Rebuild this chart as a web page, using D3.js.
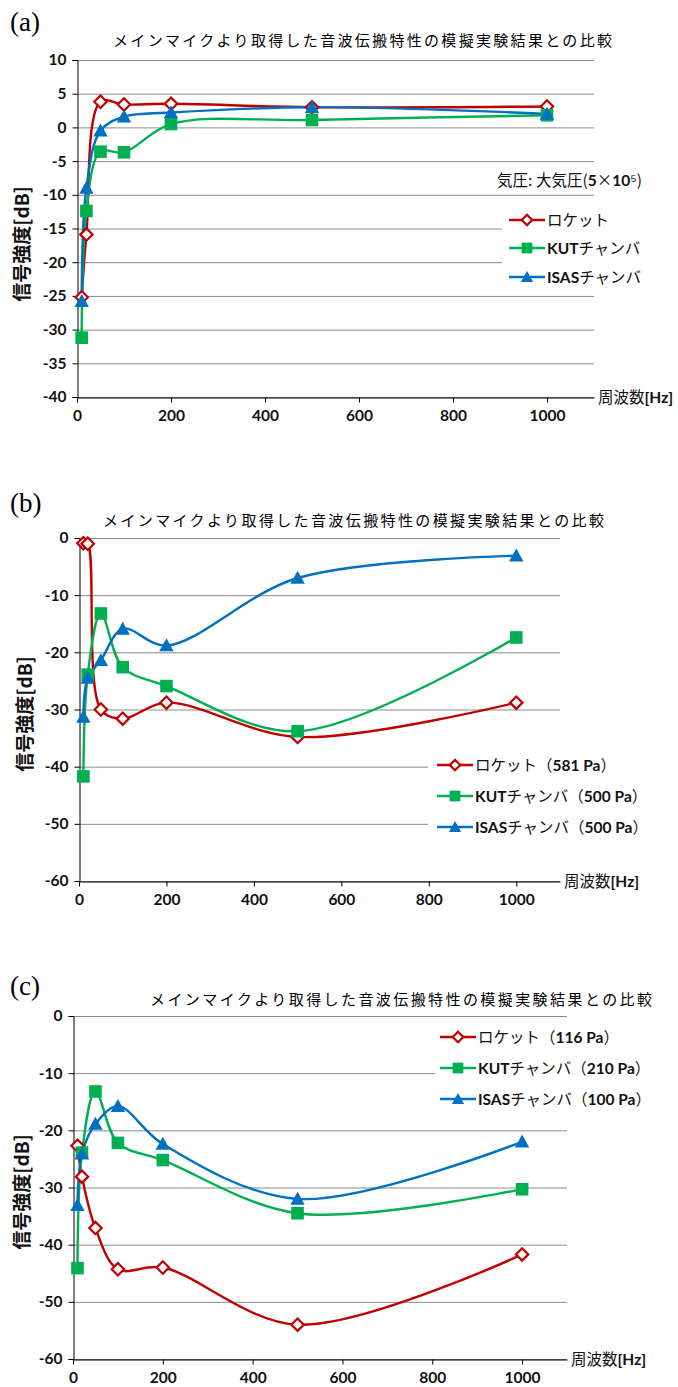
<!DOCTYPE html>
<html><head><meta charset="utf-8">
<script src="https://cdn.jsdelivr.net/npm/d3@7"></script>
<style>body{margin:0;background:#fff}svg{display:block}</style>
</head><body>
<script>
// ---- data ----
const freqs = [10, 20, 50, 100, 200, 500, 1000];
const xTicks = [0, 200, 400, 600, 800, 1000];
const titleText = "メインマイクより取得した音波伝搬特性の模擬実験結果との比較";
const yLabel = "信号強度[dB]";
const xLabel = "周波数[Hz]";

const aRocket = [-25.2, -15.9, 3.8, 3.4, 3.5, 3.0, 3.1];
const aKUT    = [-31.2, -12.4, -3.6, -3.7, 0.5, 1.1, 1.8];
const aISAS   = [-25.8, -9.0, -0.5, 1.6, 2.2, 3.0, 2.0];
const aYTicks = [10, 5, 0, -5, -10, -15, -20, -25, -30, -35, -40];
const aLegend = ["ロケット", "KUTチャンバ", "ISASチャンバ"];
const aNote = "気圧: 大気圧(5×10⁵)";

const bRocket = [-0.9, -1.0, -30.0, -31.6, -28.8, -34.8, -28.8];
const bKUT    = [-41.7, -23.9, -13.2, -22.6, -25.9, -33.8, -17.4];
const bISAS   = [-31.3, -24.5, -21.4, -15.9, -18.8, -7.0, -3.1];
const bYTicks = [0, -10, -20, -30, -40, -50, -60];
const bLegend = ["ロケット（581 Pa）", "KUTチャンバ（500 Pa）", "ISASチャンバ（500 Pa）"];

const cRocket = [-22.7, -28.1, -37.1, -44.3, -44.0, -54.0, -41.7];
const cKUT    = [-44.1, -23.9, -13.2, -22.2, -25.2, -34.5, -30.3];
const cISAS   = [-33.1, -24.1, -18.9, -15.8, -22.4, -32.0, -22.0];
const cYTicks = [0, -10, -20, -30, -40, -50, -60];
const cLegend = ["ロケット（116 Pa）", "KUTチャンバ（210 Pa）", "ISASチャンバ（100 Pa）"];

// ---- styling ----
const colors = ["#C00000", "#00B050", "#0070C0"];
const jp = "'Noto Sans CJK JP', sans-serif";
const lat = "Lato, 'Noto Sans', sans-serif";

const svg = d3.select("body").append("svg").attr("width", 678).attr("height", 1387);

function richText(sel, str) {
  const parts = str.match(/[A-Za-z0-9 .\[\]]+|[^A-Za-z0-9 .\[\]]+/g);
  parts.forEach(p => {
    const ascii = /^[A-Za-z0-9 .\[\]]+$/.test(p);
    sel.append("tspan").text(p)
      .attr("font-family", ascii ? lat : jp)
      .attr("font-weight", ascii ? "bold" : "normal");
  });
}

function panel(cfg) {
  const x = d3.scaleLinear().domain([0, 1100]).range([cfg.left, cfg.right]);
  const y = d3.scaleLinear().domain(cfg.yDomain).range([cfg.bottom, cfg.top]);
  const g = svg.append("g");

  g.append("text").attr("x", 10).attr("y", cfg.letterY)
    .attr("font-family", "'Liberation Serif', serif").attr("font-size", 27).text(cfg.letter);
  g.append("text").attr("x", cfg.titleX0).attr("y", cfg.titleY)
    .attr("font-family", jp).attr("font-size", 15)
    .attr("textLength", cfg.titleX1 - cfg.titleX0).attr("lengthAdjust", "spacing")
    .text(titleText);

  g.append("g").selectAll("line").data(cfg.yTicks).join("line")
    .attr("x1", cfg.left).attr("x2", cfg.right)
    .attr("y1", d => y(d) + 0.5).attr("y2", d => y(d) + 0.5)
    .attr("stroke", "#8a8a8a").attr("stroke-width", 1);

  g.append("rect").attr("x", cfg.maskX).attr("y", cfg.maskY)
    .attr("width", 678 - cfg.maskX).attr("height", cfg.maskH).attr("fill", "#fff");

  const fmt = d => String(d);
  const ya = g.append("g").attr("transform", `translate(${cfg.left + 0.5},0)`)
    .call(d3.axisLeft(y).tickValues(cfg.yTicks).tickSize(5).tickPadding(6).tickFormat(fmt));
  ya.select(".domain").attr("stroke", "#000");
  ya.selectAll(".tick line").attr("stroke", "#000");
  ya.selectAll("text").attr("font-family", lat).attr("font-weight", "bold").attr("font-size", 15.5).attr("fill", "#111");

  const xa = g.append("g").attr("transform", `translate(0,${cfg.bottom + 0.5})`)
    .call(d3.axisBottom(x).tickValues(xTicks).tickSize(5).tickPadding(7).tickSizeOuter(0).tickFormat(fmt));
  xa.select(".domain").attr("stroke", "#000");
  xa.selectAll(".tick line").attr("stroke", "#000");
  xa.selectAll("text").attr("font-family", lat).attr("font-weight", "bold").attr("font-size", 15.5).attr("fill", "#111");

  const xl = g.append("text").attr("x", cfg.right + 4).attr("y", cfg.bottom + 6).attr("font-size", 15.5).attr("fill", "#111");
  richText(xl, xLabel);
  g.append("text").attr("transform", `translate(${cfg.yLabelX},${cfg.yLabelY}) rotate(-90)`)
    .attr("text-anchor", "middle").attr("font-family", jp).attr("font-weight", "bold")
    .attr("font-size", 19).attr("fill", "#111").text(yLabel);

  const line = d3.line().x((d, i) => x(freqs[i])).y(d => y(d)).curve(d3.curveCatmullRom.alpha(0.5));
  cfg.series.forEach((vals, si) => {
    g.append("path").datum(vals).attr("d", line).attr("fill", "none")
      .attr("stroke", colors[si]).attr("stroke-width", 2.4);
  });
  cfg.series.forEach((vals, si) => drawMarkers(g, vals.map((v, i) => [x(freqs[i]), y(v)]), si));

  if (cfg.note) {
    const n = g.append("text").attr("x", cfg.noteX).attr("y", cfg.noteY).attr("font-size", 15.5).attr("fill", "#111");
    richText(n, cfg.note);
  }
  cfg.legend.forEach((lab, i) => {
    const ly = cfg.legY[i];
    g.append("line").attr("x1", cfg.legX).attr("x2", cfg.legX + 36).attr("y1", ly).attr("y2", ly)
      .attr("stroke", colors[i]).attr("stroke-width", 2.4);
    drawMarkers(g, [[cfg.legX + 18, ly]], i, 0.85);
    const t = g.append("text").attr("x", cfg.legX + 38).attr("y", ly + 5.5).attr("font-size", 15.5).attr("fill", "#111");
    richText(t, lab);
  });
}

function drawMarkers(g, pts, si, s = 1) {
  pts.forEach(([px, py]) => {
    if (si === 0) {
      const r = 6.2 * s;
      g.append("path").attr("d", `M${px},${py - r}L${px + r},${py}L${px},${py + r}L${px - r},${py}Z`)
        .attr("fill", "#fff").attr("stroke", colors[0]).attr("stroke-width", 2.2);
    } else if (si === 1) {
      const h = 6.3 * s;
      g.append("rect").attr("x", px - h).attr("y", py - h).attr("width", 2 * h).attr("height", 2 * h)
        .attr("fill", colors[1]);
    } else {
      const h = 7.2 * s;
      g.append("path").attr("d", `M${px},${py - h}L${px + h},${py + h * 0.8}L${px - h},${py + h * 0.8}Z`)
        .attr("fill", colors[2]);
    }
  });
}

panel({letter: "(a)", letterY: 31, titleX0: 113, titleX1: 612, titleY: 46,
  left: 77, right: 594, top: 60, bottom: 397, yDomain: [-40, 10], yTicks: aYTicks,
  yLabelX: 29, yLabelY: 244,
  series: [aRocket, aKUT, aISAS],
  maskX: 502, maskY: 205, maskH: 84,
  note: aNote, noteX: 497, noteY: 186,
  legend: aLegend, legX: 509, legY: [220, 248, 277]});

panel({letter: "(b)", letterY: 512, titleX0: 103, titleX1: 604, titleY: 526,
  left: 79, right: 560, top: 538, bottom: 881, yDomain: [-60, 0], yTicks: bYTicks,
  yLabelX: 32, yLabelY: 714,
  series: [bRocket, bKUT, bISAS],
  maskX: 428, maskY: 752, maskH: 88,
  legend: bLegend, legX: 437, legY: [765, 796, 827]});

panel({letter: "(c)", letterY: 995, titleX0: 150, titleX1: 652, titleY: 1005,
  left: 73, right: 567, top: 1016, bottom: 1359, yDomain: [-60, 0], yTicks: cYTicks,
  yLabelX: 29, yLabelY: 1192,
  series: [cRocket, cKUT, cISAS],
  maskX: 435, maskY: 1024, maskH: 90,
  legend: cLegend, legX: 440, legY: [1037, 1068, 1099]});
</script>
</body></html>
